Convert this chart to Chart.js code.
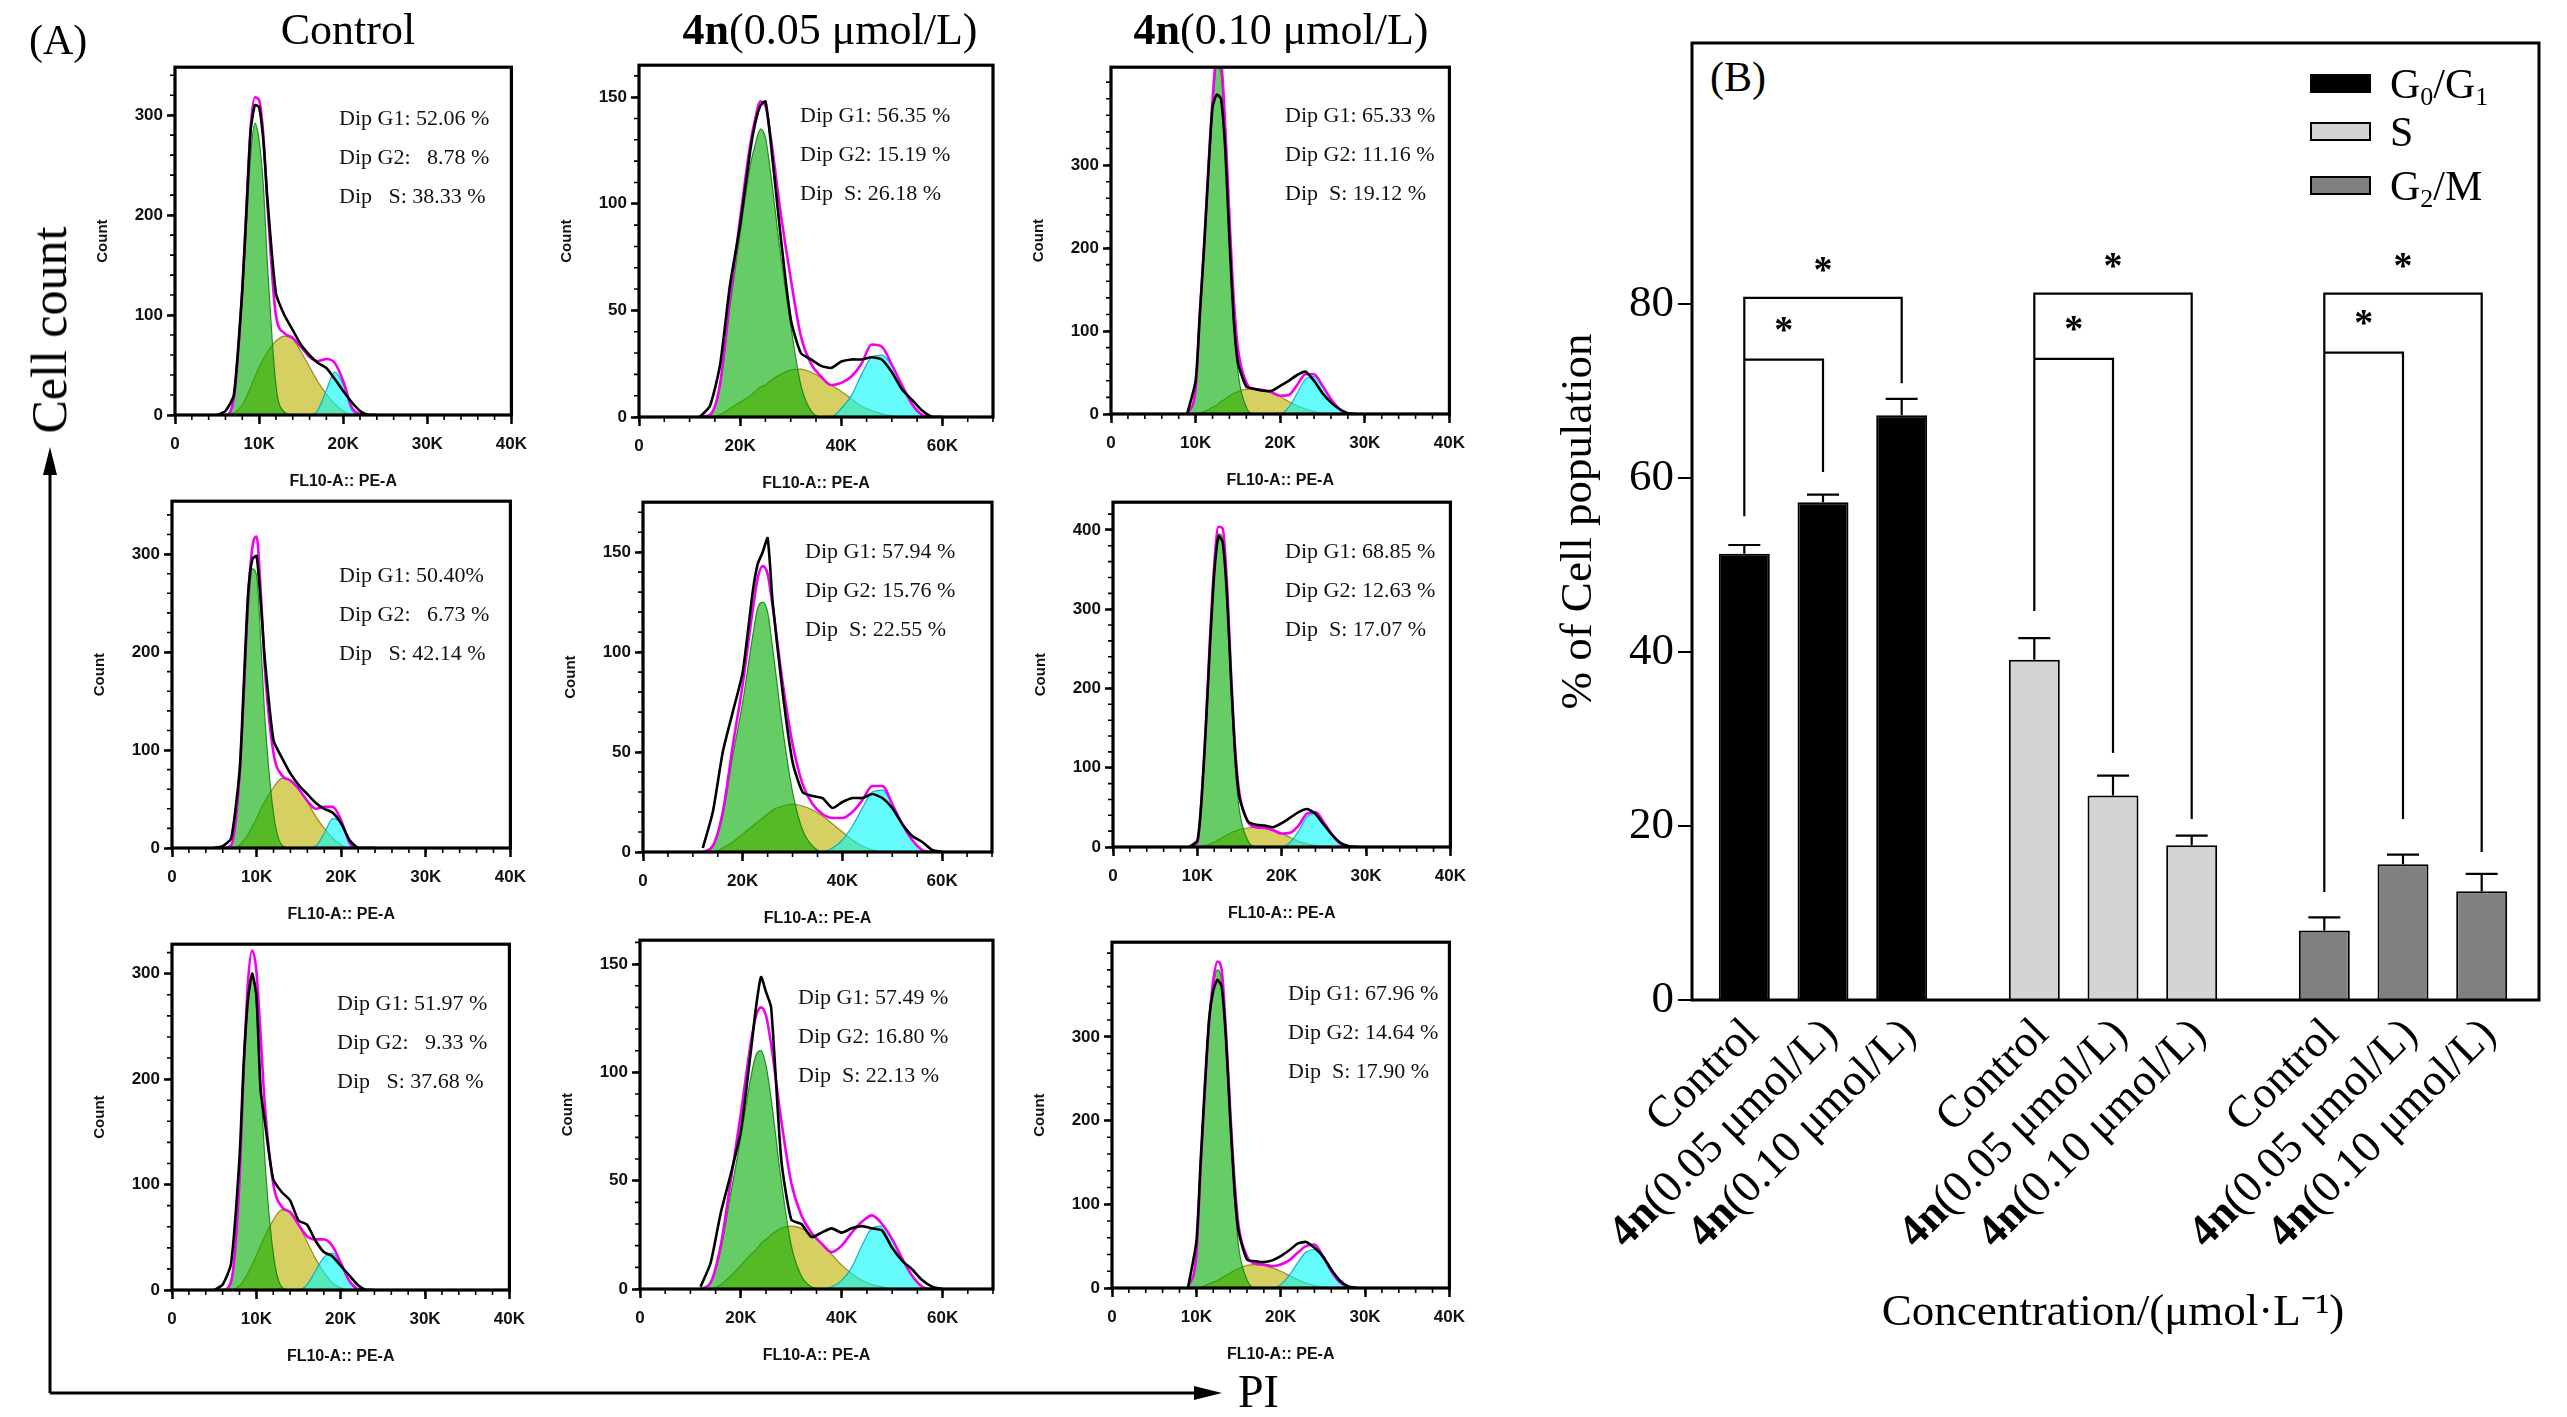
<!DOCTYPE html>
<html><head><meta charset="utf-8">
<script src="https://cdn.jsdelivr.net/npm/chart.js@4.4.0/dist/chart.umd.min.js"></script>
<style>
html,body{margin:0;padding:0;background:#fff;}
body{width:2567px;height:1417px;position:relative;overflow:hidden;font-family:'Liberation Serif','Times New Roman',serif;color:#000;}
canvas{position:absolute;}
.t{position:absolute;line-height:1;white-space:pre;color:#111;}
</style></head><body>
<svg width="2567" height="1417" style="position:absolute;left:0;top:0">
<line x1="50" y1="1393" x2="50" y2="470" stroke="#000" stroke-width="3"/>
<polygon points="50,447 43,475 57,475" fill="#000"/>
<line x1="50" y1="1393" x2="1200" y2="1393" stroke="#000" stroke-width="3"/>
<polygon points="1222,1393 1194,1386 1194,1400" fill="#000"/>
</svg>
<script>
// ---------------- Panel A data (FL10-A bins in K, counts) ----------------
const binsCtrl = [5,6,7,8,8.5,9,9.5,10,10.5,11,12,13,14,15,16,17,18,19,20,21,22,23,24];
const binsLow  = [12,14,16,18,20,22,23,24,25,26,28,30,32,34,36,38,40,42,44,46,48,50,52,54,56,58,60];
const binsHigh = [9,10,10.5,11,11.5,12,12.5,13,13.5,14,14.5,15,16,17,18,19,20,21,22,23,24,25,26,27,28,29];

// Row 1
const g1_ctl_1  = [0,0,15,115,190,260,292,275,230,150,30,3,0,0,0,0,0,0,0,0,0,0,0];
const s_ctl_1   = [0,0,2,10,18,28,38,48,56,63,74,79,76,63,48,33,21,11,4,0,0,0,0];
const g2_ctl_1  = [0,0,0,0,0,0,0,0,0,0,0,0,0,0,0,5,25,43,30,5,0,0,0];
const fit_ctl_1 = [0,0,17,125,208,288,318,315,280,210,100,82,77,68,58,54,56,52,34,8,1,0,0];
const obs_ctl_1 = [0,4,20,125,205,285,310,308,275,215,122,100,85,70,60,52,47,36,24,13,4,0,0];

const g1_low_1  = [0,1,14,52,86,118,128,135,131,115,76,43,15,3,0,0,0,0,0,0,0,0,0,0,0,0,0];
const s_low_1   = [0,0,1,4,7,10,12,14,15,17,20,22,22.5,21,18.5,15,12,8.5,5,3,1.5,0.5,0,0,0,0,0];
const g2_low_1  = [0,0,0,0,0,0,0,0,0,0,0,0,0,0,0,0,4,10,20,28,29,24,15,6,1,0,0];
const fit_low_1 = [0,1,15,56,93,128,140,148,146,132,96,65,38,25,19,15,16,19,25,34,33,24.5,15,6,1,0,0];
const obs_low_1 = [0,5,24,62,90,125,138,146,148,130,85,46,30,27,24,23,26,27,27,28,27,21,13,8,3,0,0];

const g1_high_1  = [0,30,120,200,290,370,420,410,330,215,115,52,8,0,0,0,0,0,0,0,0,0,0,0,0,0];
const s_high_1   = [0,0,1,3,5,8,11,15,18,22,25,27,30,30,29,26,21,15,10,6,3,1,0,0,0,0];
const g2_high_1  = [0,0,0,0,0,0,0,0,0,0,0,0,0,0,0,0,0,8,25,42,45,33,18,6,0,0];
const fit_high_1 = [0,30,121,203,295,378,431,425,348,237,140,79,38,30,29,26,22,23,35,48,48,34,18,6,0,0];
const obs_high_1 = [0,40,120,200,290,370,385,380,320,210,115,62,33,30,28,28,34,40,47,51,40,25,14,6,1,0];

// Row 2
const g1_ctl_2  = [0,0,3,70,150,240,285,278,210,130,35,3,0,0,0,0,0,0,0,0,0,0,0];
const s_ctl_2   = [0,0,0,3,8,14,22,30,40,48,62,71,69,60,47,32,20,10,3,0,0,0,0];
const g2_ctl_2  = [0,0,0,0,0,0,0,0,0,0,0,0,0,0,0,2,15,30,25,5,0,0,0];
const fit_ctl_2 = [0,0,3,75,160,255,307,318,260,180,97,74,69,60,48,40,42,42,28,5,0,0,0];
const obs_ctl_2 = [0,2,10,80,170,260,295,298,250,190,110,92,76,64,55,46,40,36,25,8,0,0,0];

const g1_low_2  = [0,3,18,48,75,108,122,125,120,102,62,30,11,3,0,0,0,0,0,0,0,0,0,0,0,0,0];
const s_low_2   = [0,0,2,5,9,13,15,17,19,21,23,24,23,21,18,14,10,6,3,1,0,0,0,0,0,0,0];
const g2_low_2  = [0,0,0,0,0,0,0,0,0,0,0,0,0,0,0,2,6,13,22,30,31,24,14,6,1,0,0];
const fit_low_2 = [0,3,20,53,84,121,137,143,139,123,85,54,34,24,19,17,17,20,26,33,33,24,14,6,1,0,0];
const obs_low_2 = [2,20,50,70,90,130,144,150,157,125,80,45,30,28,27,22,25,27,27,29,27,22,14,8,5,1,0];

const g1_high_2  = [0,5,60,150,260,350,395,390,320,200,100,45,8,0,0,0,0,0,0,0,0,0,0,0,0,0];
const s_high_2   = [0,0,1,2,4,6,9,12,15,18,20,22,24,25,24,21,17,12,7,4,2,0.5,0,0,0,0];
const g2_high_2  = [0,0,0,0,0,0,0,0,0,0,0,0,0,0,0,0,0,6,20,38,42,30,15,4,0,0];
const fit_high_2 = [0,5,61,152,264,356,404,402,335,218,120,67,32,25,24,21,17,18,27,42,44,31,15,4,0,0];
const obs_high_2 = [0,8,60,150,255,345,392,385,320,210,115,62,32,28,27,25,30,37,44,48,42,28,15,5,1,0];

// Row 3
const g1_ctl_3  = [0,0,8,100,200,275,298,270,200,125,35,3,0,0,0,0,0,0,0,0,0,0,0];
const s_ctl_3   = [0,0,0,4,9,16,24,33,42,51,66,76,74,62,46,30,17,7,2,0,0,0,0];
const g2_ctl_3  = [0,0,0,0,0,0,0,0,0,0,0,0,0,0,5,18,31,35,24,9,1,0,0];
const fit_ctl_3 = [0,0,8,104,209,291,322,303,242,176,101,79,74,62,51,48,48,42,26,9,1,0,0];
const obs_ctl_3 = [0,5,25,125,215,275,300,280,190,160,105,93,85,66,62,47,36,32,23,14,5,0,0];

const g1_low_3  = [0,3,18,44,70,98,108,110,103,88,50,20,6,1,0,0,0,0,0,0,0,0,0,0,0,0,0];
const s_low_3   = [0,0,2,6,11,16,18,21,23,25,28,29,28,25,21,16,11,7,4,2,1,0,0,0,0,0,0];
const g2_low_3  = [0,0,0,0,0,0,0,0,0,0,0,0,0,0,0,1,4,10,20,28,29,23,14,6,1,0,0];
const fit_low_3 = [0,3,20,50,81,114,126,130,126,113,78,49,34,26,21,17,20,26,31,34,30,23,14,6,1,0,0];
const obs_low_3 = [1,12,35,53,73,110,130,144,137,130,60,32,30,24,26,28,26,28,29,28,27,19,13,9,4,1,0];

const g1_high_3  = [0,40,140,230,310,360,380,365,290,195,110,50,10,0,0,0,0,0,0,0,0,0,0,0,0,0];
const s_high_3   = [0,0,1,3,5,7,9,12,15,18,21,23,27,28,27,24,20,15,10,6,3,1,0,0,0,0];
const g2_high_3  = [0,0,0,0,0,0,0,0,0,0,0,0,0,0,0,0,4,15,30,43,46,35,20,7,1,0];
const fit_high_3 = [0,40,141,233,315,367,390,380,308,215,132,75,38,29,28,26,28,33,42,50,52,38,20,7,1,0];
const obs_high_3 = [0,55,150,240,320,355,368,360,300,205,120,68,34,32,31,33,38,45,53,55,48,38,22,9,2,0];

// percentages printed on histograms [row][col]
const dipG1 = [['52.06','56.35','65.33'],['50.40','57.94','68.85'],['51.97','57.49','67.96']];
const dipG2 = [['8.78','15.19','11.16'],['6.73','15.76','12.63'],['9.33','16.80','14.64']];
const dipS  = [['38.33','26.18','19.12'],['42.14','22.55','17.07'],['37.68','22.13','17.90']];
const colTitles = ['Control','<b>4n</b>(0.05 μmol/L)','<b>4n</b>(0.10 μmol/L)'];

// ---------------- Panel B data ----------------
const phases = ['G0/G1','S','G2/M'];
const treatments = ['Control','4n(0.05 μmol/L)','4n(0.10 μmol/L)'];
const pctControl = [51.3, 39.1, 8.0];
const pctLow     = [57.2, 23.5, 15.6];
const pctHigh    = [67.2, 17.8, 12.5];
const errControl = [1.0, 2.5, 1.5];
const errLow     = [0.9, 2.3, 1.1];
const errHigh    = [1.9, 1.1, 2.0];
const sigInnerTop  = [73.6, 73.7, 74.4];
const sigOuterTop  = [80.7, 81.2, 81.2];
const sigLegBase   = [55.6, 44.7, 12.4];
const sigInnerBase = [60.7, 28.4, 20.8];
const sigOuterBase = [70.9, 20.8, 17.0];
const yTicksB = [0, 20, 40, 60, 80];

// ---------------- helpers ----------------
function addText(html, x, y, size, opts) {
  opts = opts || {};
  const d = document.createElement('div');
  d.className = 't';
  d.innerHTML = html;
  d.style.left = x + 'px';
  d.style.top = y + 'px';
  d.style.fontSize = size + 'px';
  if (opts.family) d.style.fontFamily = opts.family;
  if (opts.color) d.style.color = opts.color;
  d.style.transform = opts.transform || 'translateY(-50%)';
  document.body.appendChild(d);
  return d;
}
function mkCanvas(left, top, w, h) {
  const cv = document.createElement('canvas');
  cv.width = w; cv.height = h;
  cv.style.left = left + 'px'; cv.style.top = top + 'px';
  cv.style.width = w + 'px'; cv.style.height = h + 'px';
  document.body.appendChild(cv);
  return cv;
}
function frameRect(chart) {
  const a = chart.chartArea;
  const o = (chart.options.plugins && chart.options.plugins.frame) || {};
  const il = o.insetL || 0, ir = o.insetR || 0;
  return {left: a.left + il, right: a.right - ir, top: a.top, bottom: a.bottom};
}
const framePlugin = {
  id: 'frame',
  afterDatasetsDraw(chart, args, o) {
    const {ctx} = chart;
    const f = frameRect(chart);
    ctx.save(); ctx.strokeStyle = '#000'; ctx.lineWidth = o.width || 3;
    ctx.strokeRect(f.left, f.top, f.right - f.left, f.bottom - f.top);
    ctx.restore();
  }
};
const minorPlugin = {
  id: 'minor',
  afterDraw(chart, args, o) {
    if (!o.x) return;
    const {ctx, chartArea: a, scales: {x, y}} = chart;
    ctx.save(); ctx.strokeStyle = '#000'; ctx.lineWidth = 1.6; ctx.beginPath();
    for (let i = 0; i * o.x <= x.max + 1e-9; i++) {
      const px = x.getPixelForValue(i * o.x);
      ctx.moveTo(px, a.bottom); ctx.lineTo(px, a.bottom + 5);
    }
    for (let i = 0; i * o.y <= y.max + 1e-9; i++) {
      const py = y.getPixelForValue(i * o.y);
      ctx.moveTo(a.left, py); ctx.lineTo(a.left - 5, py);
    }
    ctx.stroke(); ctx.restore();
  }
};

// ---------------- Panel A layout ----------------
const frames = [
  [175,65,525,415],[639,63,993,417],[1111,65,1463,414],
  [172,499,524,848],[643,500,992,852],[1113,500,1464,847],
  [172,942,523,1290],[640,938,993,1289],[1112,940,1463,1288]
];
const yMaxes = [348,165,418, 354,175,435, 328,161,413];
const annotPos = [[339,118],[800,115],[1285,115],[339,575],[805,551],[1285,551],[337,1003],[798,997],[1288,993]];
const colCfg = [
  {bins: binsCtrl, xMax: 40, xStep: 10, xMinor: 2, yStep: 100, yMinor: 20},
  {bins: binsLow,  xMax: 70, xStep: 20, xMinor: 5, yStep: 50,  yMinor: 10},
  {bins: binsHigh, xMax: 40, xStep: 10, xMinor: 2, yStep: 100, yMinor: 20}
];
const panelData = [
  [g1_ctl_1, s_ctl_1, g2_ctl_1, fit_ctl_1, obs_ctl_1],
  [g1_low_1, s_low_1, g2_low_1, fit_low_1, obs_low_1],
  [g1_high_1, s_high_1, g2_high_1, fit_high_1, obs_high_1],
  [g1_ctl_2, s_ctl_2, g2_ctl_2, fit_ctl_2, obs_ctl_2],
  [g1_low_2, s_low_2, g2_low_2, fit_low_2, obs_low_2],
  [g1_high_2, s_high_2, g2_high_2, fit_high_2, obs_high_2],
  [g1_ctl_3, s_ctl_3, g2_ctl_3, fit_ctl_3, obs_ctl_3],
  [g1_low_3, s_low_3, g2_low_3, fit_low_3, obs_low_3],
  [g1_high_3, s_high_3, g2_high_3, fit_high_3, obs_high_3]
];

const PADL = 110, PADT = 12, PADR = 12, XH = 85;
const sansBold = (s) => ({family: "'Liberation Sans', Arial, sans-serif", weight: 'bold', size: s});

panelData.forEach((pd, k) => {
  const row = Math.floor(k / 3), col = k % 3;
  const c = colCfg[col];
  const [L, T, R, B] = frames[k];
  const w = (R - L) + PADL + PADR, h = (B - T) + PADT + XH;
  const cv = mkCanvas(L - PADL, T - PADT, w, h);
  const [g1, s, g2, fit, obs] = pd;
  const base = {pointRadius: 0, cubicInterpolationMode: 'monotone'};
  new Chart(cv, {
    type: 'line',
    data: {
      labels: c.bins,
      datasets: [
        Object.assign({label: 'Data', data: obs, borderColor: '#000', borderWidth: 2.6, fill: false, order: 0}, base, {cubicInterpolationMode: 'default', tension: 0.2}),
        Object.assign({label: 'Fit', data: fit, borderColor: '#f000f0', borderWidth: 2.6, fill: false, order: 1}, base),
        Object.assign({label: 'G2', data: g2, borderColor: 'rgba(0,170,200,0.9)', borderWidth: 1.2, backgroundColor: 'rgba(0,250,250,0.6)', fill: 'origin', order: 2}, base),
        Object.assign({label: 'G1', data: g1, borderColor: 'rgba(20,130,20,0.9)', borderWidth: 1.2, backgroundColor: 'rgba(0,172,0,0.6)', fill: 'origin', order: 3}, base),
        Object.assign({label: 'S', data: s, borderColor: 'rgb(150,140,40)', borderWidth: 1.2, backgroundColor: 'rgb(214,207,98)', fill: 'origin', order: 4}, base)
      ]
    },
    options: {
      responsive: false, animation: false, devicePixelRatio: 1,
      layout: {padding: {top: PADT, right: PADR, left: 0, bottom: 0}},
      plugins: {legend: {display: false}, tooltip: {enabled: false}, frame: {width: 3.2}, minor: {x: c.xMinor, y: c.yMinor}},
      scales: {
        x: {
          type: 'linear', min: 0, max: c.xMax,
          ticks: {stepSize: c.xStep, autoSkip: false, maxRotation: 0, padding: 10, color: '#111', font: sansBold(17),
                  callback: v => v === 0 ? '0' : v + 'K'},
          grid: {display: true, drawOnChartArea: false, drawTicks: true, tickLength: 9, tickWidth: 2.5, tickColor: '#000'},
          border: {display: false},
          title: {display: true, text: 'FL10-A:: PE-A', color: '#111', font: sansBold(16), padding: {top: 0, bottom: 9}},
          afterBuildTicks: sc => { sc.ticks = sc.ticks.filter(t => Math.abs(t.value / c.xStep - Math.round(t.value / c.xStep)) < 1e-6); },
          afterFit: sc => { sc.height = XH; }
        },
        y: {
          min: 0, max: yMaxes[k],
          ticks: {stepSize: c.yStep, padding: 4, color: '#111', font: sansBold(17)},
          grid: {display: true, drawOnChartArea: false, drawTicks: true, tickLength: 8, tickWidth: 2.5, tickColor: '#000'},
          border: {display: false},
          title: {display: true, text: 'Count', color: '#111', font: sansBold(15), padding: {top: 29, bottom: 0}},
          afterBuildTicks: sc => { sc.ticks = sc.ticks.filter(t => Math.abs(t.value / c.yStep - Math.round(t.value / c.yStep)) < 1e-6); },
          afterFit: sc => { sc.width = PADL; }
        }
      }
    },
    plugins: [framePlugin, minorPlugin]
  });
  // percentage annotations
  const [ax, ay] = annotPos[k];
  const g2txt = dipG2[row][col].length < 5 ? '  ' + dipG2[row][col] : dipG2[row][col];
  const sLabel = col === 0 ? 'Dip   S: ' : 'Dip  S: ';
  const pctSep = (row === 1 && col === 0) ? '%' : ' %';
  addText('Dip G1: ' + dipG1[row][col] + pctSep, ax, ay, 22);
  addText('Dip G2: ' + g2txt + ' %', ax, ay + 39, 22);
  addText(sLabel + dipS[row][col] + ' %', ax, ay + 78, 22);
});

// column titles and panel labels
[348, 830, 1281].forEach((cx, i) => addText(colTitles[i], cx, 30, 44, {transform: 'translate(-50%,-50%)', color: '#000'}));
addText('(A)', 29, 40, 42, {color: '#000'});
addText('Cell count', 49, 330, 50, {transform: 'translate(-50%,-50%) rotate(-90deg)', color: '#000'});
addText('PI', 1238, 1392, 46, {color: '#000'});
addText('(B)', 1710, 77, 42, {color: '#000'});

// ---------------- Panel B ----------------
const phaseColors = ['#000000', '#d4d4d4', '#808080'];
const serif = "'Liberation Serif', 'Times New Roman', serif";

function drawSubText(ctx, str, x, y, size) {
  let cx = x;
  for (let i = 0; i < str.length; i++) {
    const ch = str[i];
    const sub = /[0-9]/.test(ch) && i > 0 && /[A-Z]/.test(str[i - 1]);
    ctx.font = (sub ? Math.round(size * 0.62) : size) + 'px ' + serif;
    ctx.fillText(ch, cx, sub ? y + size * 0.16 : y);
    cx += ctx.measureText(ch).width;
  }
}

const decorPlugin = {
  id: 'decor',
  afterDatasetsDraw(chart) {
    const {ctx, chartArea: a, scales: {y}} = chart;
    const f = frameRect(chart);
    const metas = [0, 1, 2].map(i => chart.getDatasetMeta(i));
    const errs = [errControl, errLow, errHigh];
    ctx.save();
    ctx.strokeStyle = '#000'; ctx.fillStyle = '#000'; ctx.lineWidth = 2.2;
    // y tick marks on the frame
    ctx.beginPath();
    yTicksB.forEach(v => { const py = y.getPixelForValue(v); ctx.moveTo(f.left - 14, py); ctx.lineTo(f.left, py); });
    ctx.stroke();
    // error bars
    metas.forEach((m, i) => m.data.forEach((el, j) => {
      const v = chart.data.datasets[i].data[j];
      const top = y.getPixelForValue(v + errs[i][j]);
      ctx.beginPath();
      ctx.moveTo(el.x, el.y); ctx.lineTo(el.x, top);
      ctx.moveTo(el.x - 16, top); ctx.lineTo(el.x + 16, top);
      ctx.stroke();
    }));
    // significance brackets
    for (let j = 0; j < phases.length; j++) {
      const x0 = metas[0].data[j].x, x1 = metas[1].data[j].x, x2 = metas[2].data[j].x;
      const yo = y.getPixelForValue(sigOuterTop[j]), yi = y.getPixelForValue(sigInnerTop[j]);
      ctx.beginPath();
      ctx.moveTo(x0, y.getPixelForValue(sigLegBase[j])); ctx.lineTo(x0, yo); ctx.lineTo(x2, yo);
      ctx.lineTo(x2, y.getPixelForValue(sigOuterBase[j]));
      ctx.moveTo(x0, yi); ctx.lineTo(x1, yi); ctx.lineTo(x1, y.getPixelForValue(sigInnerBase[j]));
      ctx.stroke();
      ctx.font = 'bold 38px ' + serif; ctx.textAlign = 'center'; ctx.textBaseline = 'alphabetic';
      ctx.fillText('*', (x0 + x1) / 2, yi - 18);
      ctx.fillText('*', (x0 + x2) / 2, yo - 16);
    }
    // rotated category labels
    metas.forEach((m, i) => m.data.forEach((el) => {
      const t = treatments[i];
      const bold = t.startsWith('4n') ? '4n' : '';
      const rest = t.slice(bold.length);
      ctx.save();
      ctx.translate(el.x + 16, a.bottom + 36);
      ctx.rotate(-Math.PI / 4);
      ctx.textAlign = 'left'; ctx.textBaseline = 'alphabetic';
      ctx.font = 'bold 45px ' + serif; const w1 = bold ? ctx.measureText(bold).width : 0;
      ctx.font = '45px ' + serif; const w2 = ctx.measureText(rest).width;
      const sx = -(w1 + w2);
      if (bold) { ctx.font = 'bold 45px ' + serif; ctx.fillText(bold, sx, 0); }
      ctx.font = '45px ' + serif; ctx.fillText(rest, sx + w1, 0);
      ctx.restore();
    }));
    // legend
    const legTops = [32, 80, 134];
    phases.forEach((p, k) => {
      const bx = f.right - 228, by = a.top + legTops[k];
      ctx.fillStyle = phaseColors[k]; ctx.fillRect(bx, by, 59, 17);
      ctx.lineWidth = 2; ctx.strokeStyle = '#000'; ctx.strokeRect(bx, by, 59, 17);
      ctx.fillStyle = '#000'; ctx.textAlign = 'left'; ctx.textBaseline = 'alphabetic';
      drawSubText(ctx, p, bx + 79, by + 9 + 14, 42);
    });
    ctx.restore();
  }
};

// chart area 1678..2548 so the groups sit where they do in the figure; the frame is drawn at 1692..2539
const cvB = mkCanvas(1540, 0, 1027, 1417);
new Chart(cvB, {
  type: 'bar',
  data: {
    labels: phases,
    datasets: [
      {label: treatments[0], data: pctControl, backgroundColor: phaseColors, borderColor: '#000', borderWidth: 2},
      {label: treatments[1], data: pctLow, backgroundColor: phaseColors, borderColor: '#000', borderWidth: 2},
      {label: treatments[2], data: pctHigh, backgroundColor: phaseColors, borderColor: '#000', borderWidth: 2}
    ]
  },
  options: {
    responsive: false, animation: false, devicePixelRatio: 1,
    categoryPercentage: 0.814, barPercentage: 0.648,
    layout: {padding: {top: 43, right: 19, left: 0, bottom: 0}},
    plugins: {legend: {display: false}, tooltip: {enabled: false}, frame: {width: 3, insetL: 14, insetR: 9}},
    scales: {
      x: {
        ticks: {display: false},
        grid: {display: false},
        border: {display: false},
        title: {display: true, text: 'Concentration/(μmol·L⁻¹)', color: '#000', font: {family: serif, size: 45}, padding: {top: 0, bottom: 77}},
        afterFit: sc => { sc.height = 417; }
      },
      y: {
        min: 0, max: 110,
        ticks: {stepSize: 20, padding: 4, color: '#000', font: {family: serif, size: 45}},
        grid: {display: false, drawOnChartArea: false, drawTicks: false},
        border: {display: false},
        title: {display: true, text: '% of Cell population', color: '#000', font: {family: serif, size: 45}, padding: {top: 12, bottom: 0}},
        afterBuildTicks: sc => { sc.ticks = yTicksB.map(v => ({value: v})); },
        afterFit: sc => { sc.width = 138; }
      }
    }
  },
  plugins: [framePlugin, decorPlugin]
});
</script>
</body></html>
